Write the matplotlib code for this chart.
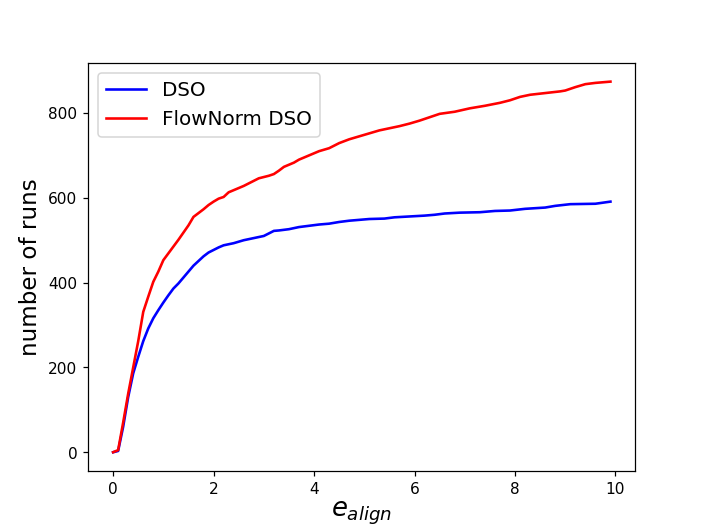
import matplotlib
matplotlib.use("Agg")
import matplotlib.pyplot as plt

# values
x_flow = [0, 0.1, 0.2, 0.3, 0.4, 0.5, 0.6, 0.7, 0.8, 0.9, 1.0, 1.1, 1.2, 1.3, 1.4, 1.5,
          1.6, 1.7, 1.8, 1.9, 2.0, 2.1, 2.2, 2.3, 2.4, 2.6, 2.8, 2.9, 3.1, 3.2, 3.3, 3.4,
          3.6, 3.7, 3.9, 4.1, 4.3, 4.5, 4.7, 4.9, 5.1, 5.3, 5.5, 5.7, 5.9, 6.1, 6.3, 6.5,
          6.8, 7.1, 7.4, 7.7, 7.9, 8.1, 8.3, 8.6, 8.9, 9.0, 9.2, 9.4, 9.6, 9.9]
y_flow = [0, 5, 70, 138, 200, 262, 331, 367, 402, 426, 453, 469, 485, 501, 518, 535,
          555, 564, 573, 583, 591, 598, 602, 613, 618, 628, 640, 646, 652, 656, 664, 673,
          683, 690, 700, 710, 717, 729, 738, 745, 752, 759, 764, 769, 775, 782, 790, 798,
          803, 811, 817, 824, 830, 838, 843, 847, 851, 853, 861, 868, 871, 874]

x_dso = [0, 0.1, 0.2, 0.3, 0.4, 0.5, 0.6, 0.7, 0.8, 0.9, 1.0, 1.1, 1.2, 1.3, 1.4, 1.5,
         1.6, 1.7, 1.8, 1.9, 2.0, 2.1, 2.2, 2.4, 2.6, 2.8, 3.0, 3.1, 3.2, 3.3, 3.5, 3.7,
         3.9, 4.1, 4.3, 4.5, 4.7, 4.9, 5.1, 5.4, 5.6, 5.9, 6.2, 6.4, 6.6, 6.9, 7.3, 7.6,
         7.9, 8.2, 8.6, 8.8, 9.1, 9.6, 9.9]
y_dso = [0, 3, 60, 130, 186, 225, 262, 292, 316, 335, 353, 370, 386, 398, 412, 426,
         440, 451, 462, 471, 477, 483, 488, 493, 500, 505, 510, 516, 522, 523, 526, 531,
         534, 537, 539, 543, 546, 548, 550, 551, 554, 556, 558, 560, 563, 565, 566, 569,
         570, 574, 577, 581, 585, 586, 591]

fig, ax = plt.subplots(figsize=(6.4, 4.8), dpi=110.3)
ax.plot(x_dso, y_dso, color="b", lw=1.7, label="DSO")
ax.plot(x_flow, y_flow, color="r", lw=1.7, label="FlowNorm DSO")
ax.set_xlabel("$e_{align}$", fontsize=17, labelpad=2)
ax.set_ylabel("number of runs", fontsize=15)
ax.legend(loc="upper left", fontsize=13)
fig.savefig("out.png")
